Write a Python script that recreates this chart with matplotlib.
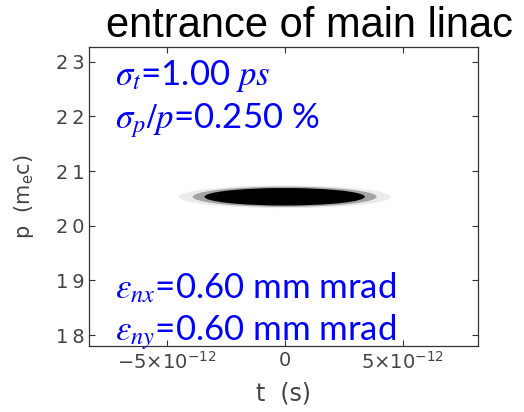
import matplotlib
matplotlib.use('Agg')
import matplotlib.pyplot as plt
from matplotlib.patches import Ellipse

# beam centre and extent (t in s, p in m_e c)
beam_t0 = 0.0
beam_p0 = 20.53
core_halfwidth = [3.4e-12, 0.16]
mid_halfwidth = [3.9e-12, 0.185]
halo_halfwidth = [4.5e-12, 0.21]

xticks = [-5e-12, 0, 5e-12]
xticklabels = [r'$-5{\times}10^{-12}$', r'$0$', r'$5{\times}10^{-12}$']
yticks = [18, 19, 20, 21, 22, 23]
yticklabels = ['1\u20098', '1\u20099', '2\u20090', '2\u20091', '2\u20092', '2\u20093']

title = 'entrance of main linac'
beam_notes = [r'$\sigma_t$=1.00 $ps$', r'$\sigma_p/p$=0.250 %',
              r'$\varepsilon_{nx}$=0.60 mm mrad', r'$\varepsilon_{ny}$=0.60 mm mrad']


def main():
    fig = plt.figure(figsize=(5.24, 4.12), dpi=100)
    ax = fig.add_axes([89 / 524, 1 - 346 / 412, 389 / 524, 299 / 412])

    # particle cloud: faint halo, fuzzy edge and dense core
    ax.add_patch(Ellipse((beam_t0, beam_p0), 2 * halo_halfwidth[0], 2 * halo_halfwidth[1],
                         facecolor='black', edgecolor='none', alpha=0.08))
    ax.add_patch(Ellipse((beam_t0, beam_p0), 2 * mid_halfwidth[0], 2 * mid_halfwidth[1],
                         facecolor='black', edgecolor='none', alpha=0.3))
    ax.add_patch(Ellipse((beam_t0, beam_p0), 2 * core_halfwidth[0], 2 * core_halfwidth[1],
                         facecolor='black', edgecolor='none'))

    ax.set_xlim(-8.3e-12, 8.2e-12)
    ax.set_ylim(17.8, 23.27)
    ax.set_xticks(xticks)
    ax.set_xticklabels(xticklabels, math_fontfamily='dejavusans')
    ax.set_yticks(yticks)
    ax.set_yticklabels(yticklabels)
    ax.tick_params(direction='in', top=True, right=True, length=4, width=0.8,
                   labelsize=14, labelcolor='#444444', color='#333333')
    for s in ax.spines.values():
        s.set_color('#333333')
        s.set_linewidth(0.9)

    ax.set_xlabel('t  (s)', fontsize=17, color='#444444', labelpad=6)
    ax.set_ylabel(r'p  (m$_{\rm e}$c)', fontsize=15, color='#444444', labelpad=14)

    fig.text(310 / 524, 1 - 37 / 412, title, fontsize=30, ha='center', va='baseline',
             family='Liberation Sans')

    ypos = [85, 128, 298, 340]
    for note, yp in zip(beam_notes, ypos):
        fig.text(115 / 524, 1 - yp / 412, note, fontsize=25, color='#0000ff',
                 family='Lato', math_fontfamily='stix', va='baseline')

    fig.savefig('out.png', dpi=100)


main()
